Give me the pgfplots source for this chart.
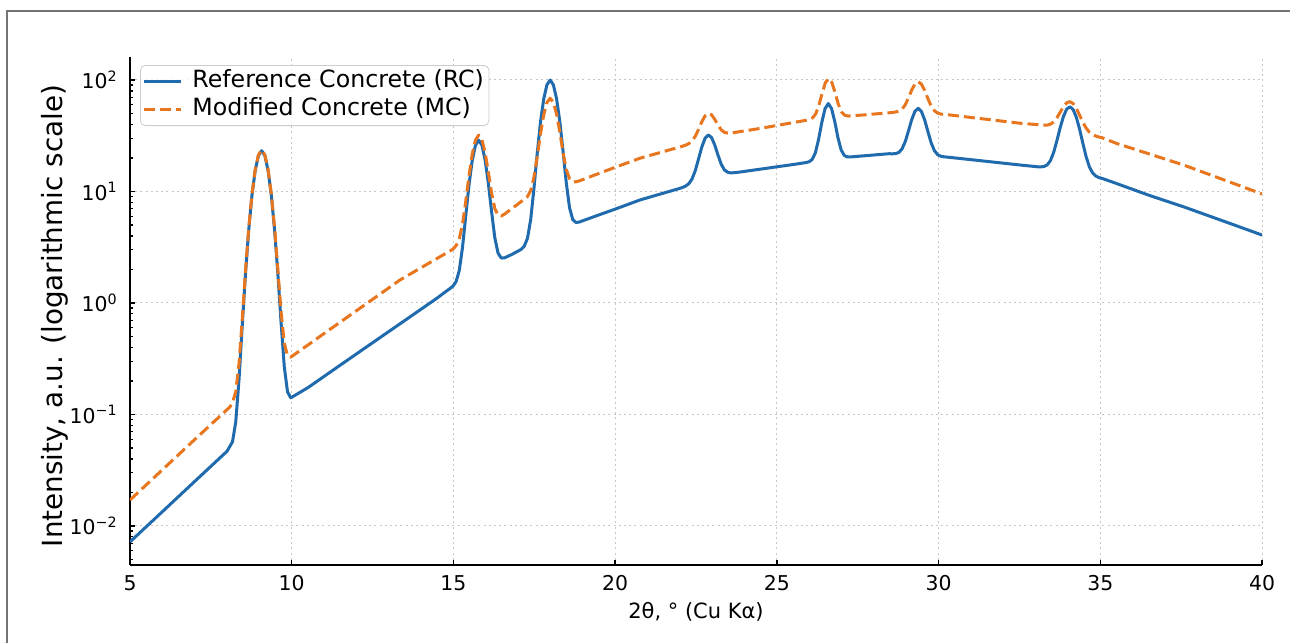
\documentclass[border=0pt]{standalone}
\usepackage{fontspec}
\setmainfont{DejaVu Sans}
\usepackage{pgfplots}
\pgfplotsset{compat=1.18}
\definecolor{rcblue}{HTML}{1F6BAE}
\definecolor{mcorange}{HTML}{E8761E}
\begin{document}
\begin{tikzpicture}[x=1pt,y=1pt]
\useasboundingbox (0,0) rectangle (645,321.5);
\draw[black!55, line width=1pt] (3.35,0) -- (3.35,316.2) -- (645,316.2);
\begin{axis}[
  at={(65pt,39pt)}, anchor=south west, scale only axis,
  width=566pt, height=254pt,
  xmin=5, xmax=40, ymode=log, ymin=0.004467, ymax=160.8,
  axis x line*=bottom, axis y line*=left,
  axis line style={-, line width=0.9pt, black},
  tick align=inside, major tick length=2.5pt, minor tick length=1.3pt,
  tick style={black, line width=0.7pt},
  xtick={5,10,15,20,25,30,35,40}, xticklabels={5,10,15,20,25,30,35,40},
  ytick={0.01,0.1,1,10,100},
  yticklabels={10\textsuperscript{−2},10\textsuperscript{−1},10\textsuperscript{0},10\textsuperscript{1},10\textsuperscript{2}},
  minor ytick={0.005,0.006,0.007,0.008,0.009,0.02,0.03,0.04,0.05,0.06,0.07,0.08,0.09,0.2,0.3,0.4,0.5,0.6,0.7,0.8,0.9,2,3,4,5,6,7,8,9,20,30,40,50,60,70,80,90},
  grid=major, major grid style={gray!45, line width=0.5pt, dash pattern=on 1pt off 1.6pt},
  tick label style={font=\fontsize{10.2}{12}\selectfont},
  xticklabel style={inner sep=0pt, yshift=-5pt},
  yticklabel style={inner sep=0pt, xshift=-6pt},
  xlabel={2θ, ° (Cu Kα)},
  xlabel style={at={(axis description cs:0.5,0)}, anchor=north, inner sep=0pt, yshift=-18.3pt, font=\fontsize{10.5}{12}\selectfont},
  ylabel={Intensity, a.u. (logarithmic scale)},
  ylabel style={at={(axis description cs:-0.0663,0.49)}, anchor=center, inner sep=0pt, font=\fontsize{13.9}{16}\selectfont},
  legend style={at={(axis description cs:0.00883,0.98425)}, anchor=north west,
    draw=black!20, rounded corners=2.5pt, fill=white, fill opacity=0.8, text opacity=1,
    inner xsep=1pt, inner ysep=1.5pt, column sep=3.5pt, row sep=0.3pt,
    nodes={inner xsep=1.5pt, inner ysep=1.0pt, text height=8.8pt, text depth=2.6pt, font=\fontsize{11.85}{13.5}\selectfont}},
  legend cell align=left,
  legend image code/.code={\draw[#1] (0pt,0pt) -- (18.5pt,0pt);},
]
\addplot[rcblue, line width=1.5pt, line join=round] coordinates {
(5.0,0.0072) (6.0,0.01343) (7.0,0.0251) (8.0,0.0468) (8.17,0.057) (8.27,0.086) (8.37,0.204) (8.47,0.622) (8.57,1.81) (8.67,4.48) (8.77,9.19) (8.87,15.36) (8.97,20.9) (9.07,23.2) (9.17,20.93) (9.27,15.39) (9.37,9.22) (9.47,4.52) (9.57,1.86) (9.67,0.677) (9.77,0.268) (9.87,0.160) (9.97,0.141)
(10.5,0.174) (11.5,0.277) (12.5,0.44) (13.5,0.698) (14.5,1.109)
(14.98,1.41) (15.08,1.55) (15.18,1.95) (15.28,3.14) (15.38,6.01) (15.48,11.39) (15.58,18.89) (15.68,25.91) (15.78,28.87) (15.88,26.05) (15.98,19.16) (16.08,11.81) (16.18,6.57) (16.28,3.84) (16.38,2.80) (16.48,2.53) (16.58,2.54) (16.8,2.72)
(17.09,3.02) (17.19,3.23) (17.29,3.81) (17.39,5.63) (17.49,10.66) (17.59,21.84) (17.69,41.5) (17.79,67.2) (17.89,90.4) (17.99,99.9) (18.09,90.6) (18.19,67.7) (18.29,42.3) (18.39,22.85) (18.49,11.92) (18.59,7.15) (18.69,5.59) (18.79,5.27) (18.89,5.32)
(19.5,6.17) (20.0,6.95) (20.77,8.4) (21.5,9.68)
(21.98,10.62) (22.08,10.87) (22.18,11.19) (22.28,11.77) (22.38,13.0) (22.48,15.46) (22.58,19.66) (22.68,25.09) (22.78,30.0) (22.88,32.16) (22.98,30.53) (23.08,26.11) (23.18,21.21) (23.28,17.55) (23.38,15.6) (23.48,14.89) (23.58,14.69) (23.68,14.75) (23.78,14.84)
(24.5,15.88) (25.0,16.65) (25.5,17.45)
(25.89,18.16) (25.99,18.45) (26.09,19.34) (26.19,22.18) (26.29,29.29) (26.39,41.72) (26.49,55.33) (26.59,61.54) (26.69,55.65) (26.79,42.37) (26.89,30.26) (26.99,23.48) (27.09,20.96) (27.19,20.40) (27.29,20.43)
(27.8,21.02)
(28.47,21.82) (28.57,21.78) (28.67,21.86) (28.77,22.40) (28.87,24.09) (28.97,28.01) (29.07,34.99) (29.17,44.16) (29.27,52.39) (29.37,55.71) (29.47,52.22) (29.57,43.83) (29.67,34.5) (29.77,27.35) (29.87,23.27) (29.97,21.41) (30.07,20.71) (30.17,20.46) (30.27,20.34)
(31.0,19.30) (31.75,18.28) (32.5,17.31)
(33.06,16.66) (33.16,16.62) (33.26,16.77) (33.36,17.32) (33.46,18.96) (33.56,22.5) (33.66,28.68) (33.76,37.38) (33.86,47.03) (33.96,54.76) (34.06,57.61) (34.16,54.39) (34.26,46.28) (34.36,36.26) (34.46,27.18) (34.56,20.63) (34.66,16.71) (34.76,14.70) (34.86,13.77) (34.96,13.33) (35.06,13.09)
(35.5,11.8) (36.5,9.26) (37.57,7.3) (38.5,5.84) (39.25,4.88) (40.0,4.07)
};
\addlegendentry{Reference Concrete (RC)}
\addplot[mcorange, line width=1.5pt, line join=round, dash pattern=on 5.5pt off 2.5pt] coordinates {
(5.0,0.0171) (6.0,0.0319) (7.0,0.0596) (8.09,0.117) (8.17,0.128) (8.27,0.160) (8.37,0.284) (8.47,0.712) (8.57,1.92) (8.67,4.63) (8.77,9.41) (8.87,15.67) (8.97,21.3) (9.07,23.6) (9.17,21.32) (9.27,15.71) (9.37,9.47) (9.47,4.72) (9.57,2.03) (9.67,0.843) (9.77,0.437) (9.87,0.336) (9.97,0.327)
(11.0,0.532) (12.0,0.852) (13.35,1.61) (14.2,2.24)
(14.98,3.03) (15.08,3.26) (15.18,3.77) (15.28,5.08) (15.38,8.13) (15.48,13.74) (15.58,21.53) (15.68,28.87) (15.78,32.0) (15.88,29.25) (15.98,22.31) (16.08,14.91) (16.18,9.68) (16.28,7.03) (16.38,6.12) (16.48,6.02) (16.58,6.27) (16.78,6.92) (16.98,7.66)
(17.09,8.11) (17.19,8.51) (17.29,9.0) (17.39,10.25) (17.49,13.45) (17.59,20.41) (17.69,32.56) (17.79,48.4) (17.89,62.66) (17.99,68.62) (18.09,63.12) (18.19,49.32) (18.29,33.95) (18.39,22.26) (18.49,15.76) (18.59,13.02) (18.69,12.24) (18.79,12.22) (18.89,12.44)
(19.5,14.52) (20.0,16.48) (20.77,19.9) (21.5,22.81)
(22.08,25.47) (22.18,26.05) (22.28,26.91) (22.38,28.47) (22.48,31.36) (22.58,36.12) (22.68,42.19) (22.78,47.71) (22.88,50.29) (22.98,48.8) (23.08,44.37) (23.18,39.39) (23.28,35.71) (23.38,33.9) (23.48,33.44) (23.58,33.47) (23.68,33.78)
(24.5,36.87) (25.2,40.03)
(25.9,43.51) (26.0,44.21) (26.1,45.66) (26.2,49.55) (26.3,59.23) (26.4,76.09) (26.5,94.57) (26.6,103.0) (26.7,95.08) (26.8,77.12) (26.9,60.77) (27.0,51.62) (27.1,48.24) (27.2,47.52) (27.3,47.6)
(27.8,48.93)
(28.47,50.81) (28.57,51.15) (28.67,51.67) (28.77,52.52) (28.87,54.71) (28.97,59.87) (29.07,69.13) (29.17,81.29) (29.27,92.21) (29.37,96.57) (29.47,91.87) (29.57,80.62) (29.67,68.12) (29.77,58.52) (29.87,53.02) (29.97,50.49) (30.07,49.49) (30.17,49.1) (30.27,48.88)
(31.0,46.14) (31.75,43.5) (32.5,41.01)
(33.06,39.76) (33.16,39.5) (33.26,39.39) (33.36,39.44) (33.46,40.13) (33.56,42.12) (33.66,45.91) (33.76,51.42) (33.86,57.56) (33.96,62.41) (34.06,63.97) (34.16,61.41) (34.26,55.56) (34.36,48.41) (34.46,41.89) (34.56,37.1) (34.66,34.11) (34.76,32.41) (34.86,31.44) (34.96,30.81) (35.06,30.32)
(35.5,27.0) (36.5,21.78) (37.57,17.3) (38.5,13.76) (39.25,11.44) (40.0,9.5)
};
\addlegendentry{Modified Concrete (MC)}
\end{axis}
\end{tikzpicture}
\end{document}
